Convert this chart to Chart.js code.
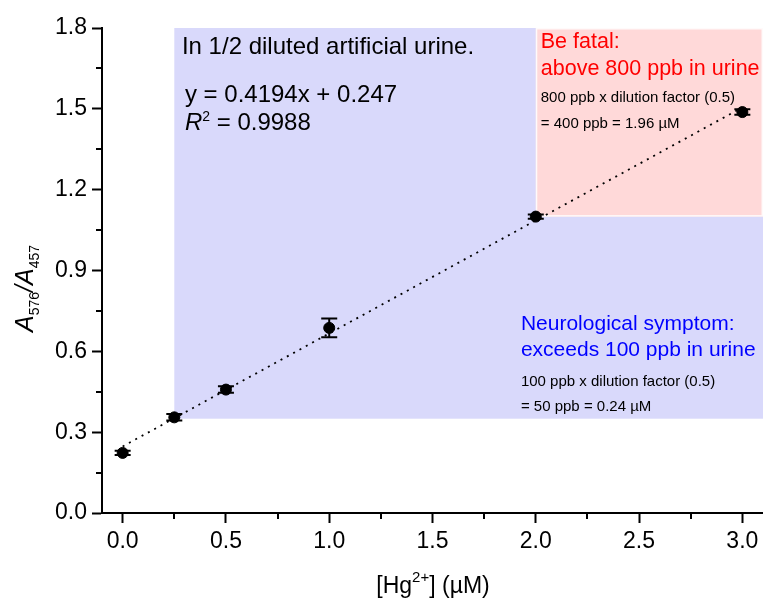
<!DOCTYPE html>
<html>
<head>
<meta charset="utf-8">
<script src="https://cdn.jsdelivr.net/npm/chart.js@4/dist/chart.umd.min.js"></script>
<style>
  html, body { margin: 0; padding: 0; background: #fff; }
  #wrap { width: 763px; height: 599px; }
</style>
</head>
<body>
<div id="wrap"><canvas id="c" width="763" height="599"></canvas></div>
<script>
// Hg2+ calibration in 1/2 diluted artificial urine
const hgConc   = [0, 0.25, 0.5, 1.0, 2.0, 3.0];          // µM
const ratio    = [0.223, 0.355, 0.458, 0.687, 1.100, 1.488]; // A576/A457
const ratioErr = [0.008, 0.012, 0.012, 0.035, 0.008, 0.010];

// linear fit reported on the plot
const fitSlope = 0.4194;
const fitIntercept = 0.247;
const fitR2 = 0.9988;
const fitRange = [0, 3];

const xTicks = [0, 0.5, 1.0, 1.5, 2.0, 2.5, 3.0];
const xMinorTicks = [0.25, 0.75, 1.25, 1.75, 2.25, 2.75];
const yTicks = [0, 0.3, 0.6, 0.9, 1.2, 1.5, 1.8];
const yMinorTicks = [0.15, 0.45, 0.75, 1.05, 1.35, 1.65];

// shaded zones: [xMin, xMax, yMin, yMax]
const neuroZone = [0.25, 3.1, 0.35, 1.8];
const fatalZone = [2.0, 3.1, 1.1, 1.8];

const FONT = "'Liberation Sans', Arial, Helvetica, sans-serif";

function font(size, italic) {
  return (italic ? 'italic ' : '') + size + 'px ' + FONT;
}

// draw a sequence of styled text runs on one baseline
function drawRuns(ctx, x, y, runs) {
  let cx = x;
  for (const r of runs) {
    ctx.font = font(r.size, r.italic);
    ctx.fillStyle = r.color || '#000';
    ctx.fillText(r.text, cx, y + (r.shift || 0));
    cx += ctx.measureText(r.text).width + (r.gap || 0);
  }
  return cx - x;
}
function runsWidth(ctx, runs) {
  let w = 0;
  for (const r of runs) {
    ctx.font = font(r.size, r.italic);
    w += ctx.measureText(r.text).width + (r.gap || 0);
  }
  return w;
}

const zonePlugin = {
  id: 'zones',
  beforeDatasetsDraw(chart) {
    const { ctx, scales: { x, y } } = chart;
    ctx.save();
    const rect = (z) => {
      const x0 = x.getPixelForValue(z[0]), x1 = x.getPixelForValue(z[1]);
      const y0 = y.getPixelForValue(z[3]), y1 = y.getPixelForValue(z[2]);
      return [x0, y0, x1 - x0, y1 - y0];
    };
    ctx.fillStyle = '#d9d9fb';
    ctx.fillRect(...rect(neuroZone));
    const f = rect(fatalZone);
    ctx.fillStyle = '#ffd9d9';
    ctx.fillRect(...f);
    ctx.strokeStyle = 'rgba(255,255,255,0.85)';
    ctx.lineWidth = 1.5;
    ctx.strokeRect(f[0] + 0.75, f[1] + 0.75, f[2] - 1.5, f[3] - 1.5);
    ctx.restore();
  }
};

const errorBarPlugin = {
  id: 'errorBars',
  afterDatasetsDraw(chart) {
    const { ctx, scales: { x, y } } = chart;
    ctx.save();
    ctx.strokeStyle = '#000';
    ctx.lineWidth = 2;
    hgConc.forEach((cx, i) => {
      const px = x.getPixelForValue(cx);
      const top = y.getPixelForValue(ratio[i] + ratioErr[i]);
      const bot = y.getPixelForValue(ratio[i] - ratioErr[i]);
      ctx.beginPath();
      ctx.moveTo(px, top); ctx.lineTo(px, bot);
      ctx.moveTo(px - 8, top); ctx.lineTo(px + 8, top);
      ctx.moveTo(px - 8, bot); ctx.lineTo(px + 8, bot);
      ctx.stroke();
    });
    ctx.restore();
  }
};

const minorTickPlugin = {
  id: 'minorTicks',
  afterDraw(chart) {
    const { ctx, scales: { x, y }, chartArea } = chart;
    ctx.save();
    ctx.strokeStyle = '#000';
    ctx.lineWidth = 2;
    ctx.beginPath();
    xMinorTicks.forEach(v => {
      const px = Math.round(x.getPixelForValue(v));
      ctx.moveTo(px, chartArea.bottom); ctx.lineTo(px, chartArea.bottom + 6);
    });
    yMinorTicks.forEach(v => {
      const py = Math.round(y.getPixelForValue(v));
      ctx.moveTo(chartArea.left, py); ctx.lineTo(chartArea.left - 6, py);
    });
    ctx.stroke();
    ctx.restore();
  }
};

const textPlugin = {
  id: 'annotations',
  afterDraw(chart) {
    const { ctx, scales: { x, y } } = chart;
    ctx.save();
    ctx.textBaseline = 'alphabetic';
    ctx.textAlign = 'left';

    // condition and fit equation
    const tx = x.getPixelForValue(0.287), ty = y.getPixelForValue(1.8);
    drawRuns(ctx, tx, ty + 26, [{ text: 'In 1/2 diluted artificial urine.', size: 24 }]);
    drawRuns(ctx, tx + 3, ty + 73.5, [{ text: 'y = ' + fitSlope + 'x + ' + fitIntercept, size: 24 }]);
    drawRuns(ctx, tx + 3, ty + 102, [
      { text: 'R', size: 24, italic: true },
      { text: '2', size: 14, shift: -9 },
      { text: ' = ' + fitR2, size: 24 }
    ]);

    // fatal level
    const fx = x.getPixelForValue(fatalZone[0]) + 5, fy = y.getPixelForValue(fatalZone[3]);
    drawRuns(ctx, fx, fy + 20.3, [{ text: 'Be fatal:', size: 21.5, color: '#ff0000' }]);
    drawRuns(ctx, fx, fy + 46.5, [{ text: 'above 800 ppb in urine', size: 21.5, color: '#ff0000' }]);
    drawRuns(ctx, fx, fy + 73.7, [{ text: '800 ppb x dilution factor (0.5)', size: 15 }]);
    drawRuns(ctx, fx, fy + 100.3, [{ text: '= 400 ppb = 1.96 \u00b5M', size: 15 }]);

    // neurological level
    const nx = x.getPixelForValue(1.928), ny = y.getPixelForValue(neuroZone[2]);
    drawRuns(ctx, nx, ny - 88.7, [{ text: 'Neurological symptom:', size: 21, color: '#0000ff' }]);
    drawRuns(ctx, nx, ny - 62.3, [{ text: 'exceeds 100 ppb in urine', size: 21, color: '#0000ff' }]);
    drawRuns(ctx, nx, ny - 33, [{ text: '100 ppb x dilution factor (0.5)', size: 15 }]);
    drawRuns(ctx, nx, ny - 8, [{ text: '= 50 ppb = 0.24 \u00b5M', size: 15 }]);

    // x axis title
    const xt = [
      { text: '[Hg', size: 23 },
      { text: '2+', size: 15, shift: -11 },
      { text: '] (\u00b5M)', size: 23 }
    ];
    const xw = runsWidth(ctx, xt);
    drawRuns(ctx, 433 - xw / 2, 593, xt);

    // y axis title
    const yt = [
      { text: 'A', size: 25, italic: true },
      { text: '576', size: 14, shift: 6 },
      { text: '/', size: 25, italic: true },
      { text: 'A', size: 25, italic: true },
      { text: '457', size: 14, shift: 6 }
    ];
    const yw = runsWidth(ctx, yt);
    ctx.translate(33, 288.5);
    ctx.rotate(-Math.PI / 2);
    drawRuns(ctx, -yw / 2, 0, yt);
    ctx.restore();
  }
};

const axisTicks = {
  color: '#000',
  font: { family: FONT, size: 23 },
  autoSkip: false,
  maxRotation: 0,
  callback: (v) => Number(v).toFixed(1)
};

new Chart(document.getElementById('c'), {
  type: 'scatter',
  data: {
    datasets: [
      {
        type: 'line',
        data: fitRange.map(v => ({ x: v, y: fitSlope * v + fitIntercept })),
        borderColor: '#000',
        borderWidth: 1.8,
        borderDash: [2, 5.2],
        pointRadius: 0,
        fill: false,
        order: 2
      },
      {
        data: hgConc.map((v, i) => ({ x: v, y: ratio[i] })),
        backgroundColor: '#000',
        borderColor: '#000',
        pointRadius: 5.5,
        pointHoverRadius: 5.5,
        order: 1
      }
    ]
  },
  options: {
    responsive: false,
    animation: false,
    devicePixelRatio: 1,
    layout: { autoPadding: false, padding: { top: 28, right: 0, bottom: 0, left: 0 } },
    plugins: { legend: { display: false }, tooltip: { enabled: false } },
    scales: {
      x: {
        type: 'linear',
        min: -0.1,
        max: 3.1,
        afterBuildTicks: (s) => { s.ticks = xTicks.map(v => ({ value: v })); },
        afterFit: (s) => { s.height = 86; s.paddingLeft = 0; s.paddingRight = 0; },
        grid: { drawOnChartArea: false, drawTicks: true, tickLength: 10, tickWidth: 2, tickColor: '#000' },
        border: { display: true, color: '#000', width: 2 },
        ticks: Object.assign({ padding: 5 }, axisTicks)
      },
      y: {
        type: 'linear',
        min: 0,
        max: 1.8,
        afterBuildTicks: (s) => { s.ticks = yTicks.map(v => ({ value: v })); },
        afterFit: (s) => { s.width = 102; s.paddingTop = 0; s.paddingBottom = 0; },
        grid: { drawOnChartArea: false, drawTicks: true, tickLength: 10, tickWidth: 2, tickColor: '#000' },
        border: { display: true, color: '#000', width: 2 },
        ticks: Object.assign({ padding: 5 }, axisTicks)
      }
    }
  },
  plugins: [zonePlugin, errorBarPlugin, minorTickPlugin, textPlugin]
});
</script>
</body>
</html>
